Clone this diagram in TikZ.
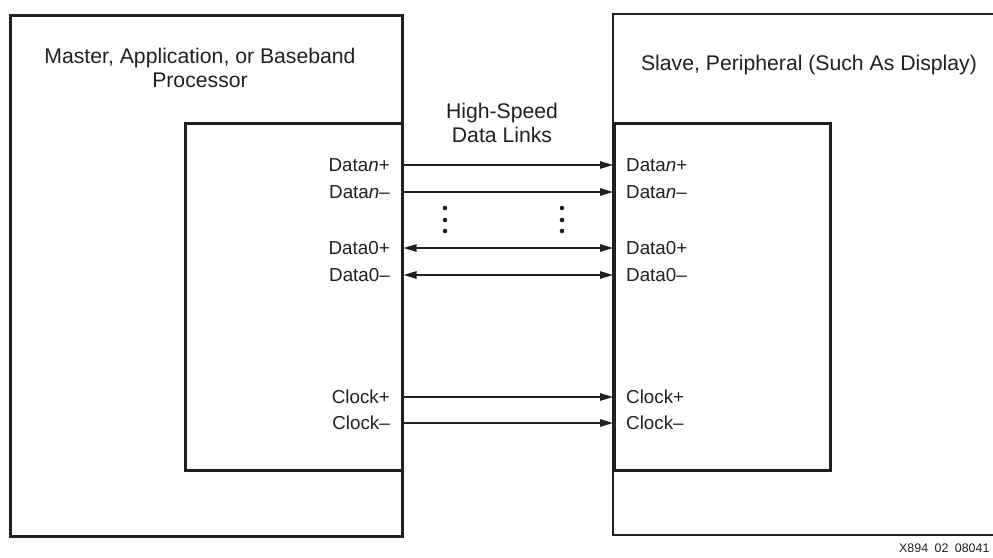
\documentclass[tikz,border=0pt]{standalone}
\usepackage{fontspec}
\setmainfont{Liberation Sans}
\usetikzlibrary{arrows.meta}
\definecolor{ink}{HTML}{231F20}
\begin{document}
\begin{tikzpicture}[x=1pt,y=-1pt,
  box/.style={draw=ink, line width=2.6pt, inner sep=0pt, anchor=north west},
  lbl/.style={font=\fontsize{18.8}{22}\selectfont, inner sep=0pt, text=ink},
  ttl/.style={font=\fontsize{21.2}{24.5}\selectfont, inner sep=0pt, text=ink, align=center},
  sig/.style={draw=ink, line width=1.3pt, -{Triangle[length=13pt,width=7.5pt]}},
  bisig/.style={draw=ink, line width=1.3pt, {Triangle[length=13pt,width=7.5pt]}-{Triangle[length=13pt,width=7.5pt]}},
  dotc/.style={fill=ink}]
\useasboundingbox (0,0) rectangle (993,557);
% outer boxes
\node[box, minimum width=392pt, minimum height=521pt] (mout) at (9,14) {};
\draw[draw=ink, line width=2.6pt] (1000,14) -- (613,14) -- (613,535) -- (1000,535);
% inner boxes
\node[box, minimum width=217pt, minimum height=347pt] (lin) at (184,122) {};
\node[box, minimum width=216pt, minimum height=347pt] (rin) at (613,122) {};
% titles
\node[ttl] (mtitle) at (200,68) {Master, Application, or Baseband\\Processor};
\node[ttl] (stitle) at (809,65) {Slave, Peripheral (Such As Display)};
\node[ttl] (hs) at (502,123) {High-Speed\\Data Links};
% left labels
\node[lbl, anchor=east] (ldnp) at (390,165) {Data\textit{n}+};
\node[lbl, anchor=east] (ldnm) at (390,192) {Data\textit{n}–};
\node[lbl, anchor=east] (ld0p) at (390,248) {Data0+};
\node[lbl, anchor=east] (ld0m) at (390,275) {Data0–};
\node[lbl, anchor=east] (lckp) at (390,397) {Clock+};
\node[lbl, anchor=east] (lckm) at (390,423) {Clock–};
% right labels
\node[lbl, anchor=west] (rdnp) at (626,165) {Data\textit{n}+};
\node[lbl, anchor=west] (rdnm) at (626,192) {Data\textit{n}–};
\node[lbl, anchor=west] (rd0p) at (626,248) {Data0+};
\node[lbl, anchor=west] (rd0m) at (626,275) {Data0–};
\node[lbl, anchor=west] (rckp) at (626,397) {Clock+};
\node[lbl, anchor=west] (rckm) at (626,423) {Clock–};
% connectors
\draw[sig] (lin.east |- ldnp.east) -- (rin.west |- rdnp.west);
\draw[sig] (lin.east |- ldnm.east) -- (rin.west |- rdnm.west);
\draw[bisig] (lin.east |- ld0p.east) -- (rin.west |- rd0p.west);
\draw[bisig] (lin.east |- ld0m.east) -- (rin.west |- rd0m.west);
\draw[sig] (lin.east |- lckp.east) -- (rin.west |- rckp.west);
\draw[sig] (lin.east |- lckm.east) -- (rin.west |- rckm.west);
% dots
\foreach \y in {208,220,231} {
  \fill[dotc] (445,\y) circle (2.3pt);
  \fill[dotc] (562,\y) circle (2.3pt);
}
% figure id
\node[font=\fontsize{12.4}{14}\selectfont, anchor=west, inner sep=0pt, text=ink] (fid) at (899,548) {X894\hspace{6.5pt}02\hspace{6.5pt}08041};
\end{tikzpicture}
\end{document}
